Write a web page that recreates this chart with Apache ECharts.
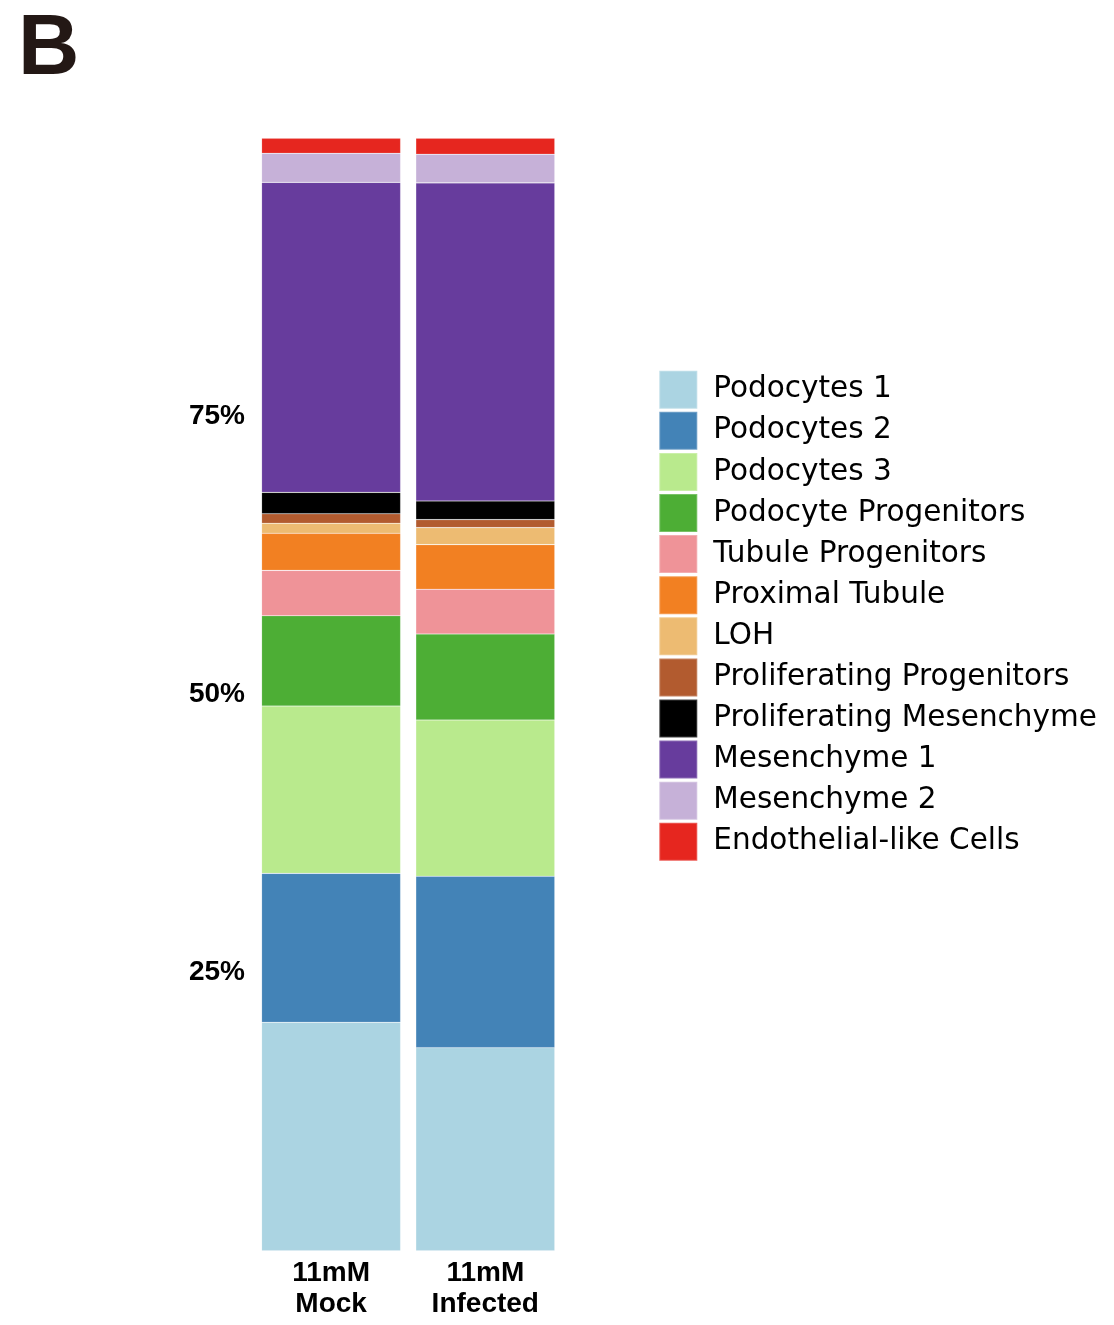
<!DOCTYPE html>
<html>
<head>
<meta charset="utf-8">
<script src="https://cdn.jsdelivr.net/npm/echarts@6/dist/echarts.min.js"></script>
<style>
html,body{margin:0;padding:0;background:#fff;}
#chart{width:1114px;height:1325px;}
</style>
</head>
<body>
<div id="chart"></div>
<script>
const categories = ['11mM\nMock', '11mM\nInfected'];
const cellTypes = ['Podocytes 1','Podocytes 2','Podocytes 3','Podocyte Progenitors','Tubule Progenitors','Proximal Tubule','LOH','Proliferating Progenitors','Proliferating Mesenchyme','Mesenchyme 1','Mesenchyme 2','Endothelial-like Cells'];
const mockValues = [20.53, 13.39, 15.04, 8.12, 4.08, 3.33, 0.90, 0.86, 1.92, 27.87, 2.61, 1.35];
const infectedValues = [18.25, 15.41, 14.05, 7.73, 4.02, 4.01, 1.53, 0.72, 1.68, 28.59, 2.58, 1.44];
const colors = ['#abd4e2','#4383b7','#b9ea8d','#4dae35','#ef9398','#f28022','#edbb72','#b25b2f','#000000','#673c9d','#c6b1d8','#e6261f'];
const yTicks = [25, 50, 75];

const chart = echarts.init(document.getElementById('chart'), null, {renderer:'canvas'});
const series = cellTypes.map((name, i) => ({
  name: name,
  type: 'bar',
  stack: 'total',
  barWidth: 139,
  data: [mockValues[i], infectedValues[i]],
  itemStyle: {color: colors[i], borderColor: 'rgba(255,255,255,0.25)', borderWidth: 0.6},
  emphasis: {disabled: true}
}));

chart.setOption({
  animation: false,
  backgroundColor: '#ffffff',
  graphic: [{
    type: 'text', left: 18, top: 8,
    style: {text: 'B', font: 'bold 85px "Liberation Sans", Arial, sans-serif', fill: '#231815'}
  }],
  grid: {left: 254, width: 308.4, top: 138.3, bottom: 74.3},
  xAxis: {
    type: 'category',
    data: categories,
    axisLine: {show: false},
    axisTick: {show: false},
    axisLabel: {
      margin: 7,
      color: '#000',
      fontFamily: '"Liberation Sans", Arial, sans-serif',
      fontWeight: 'bold',
      fontSize: 28,
      lineHeight: 31
    }
  },
  yAxis: {
    type: 'value',
    min: 0, max: 100, interval: 25,
    axisLine: {show: false},
    axisTick: {show: false},
    splitLine: {show: false},
    axisLabel: {
      margin: 9,
      color: '#000',
      fontFamily: '"Liberation Sans", Arial, sans-serif',
      fontWeight: 'bold',
      fontSize: 28,
      padding: [4, 0, 0, 0],
      formatter: v => yTicks.includes(v) ? v + '%' : ''
    }
  },
  legend: {
    orient: 'vertical',
    left: 658.3,
    top: 369.7,
    padding: 0,
    itemWidth: 38,
    itemHeight: 38,
    itemGap: 1.1,
    icon: 'rect',
    selectedMode: false,
    data: cellTypes,
    textStyle: {
      fontFamily: '"DejaVu Sans", sans-serif',
      fontSize: 29.5,
      lineHeight: 30,
      color: '#000',
      padding: [0, 0, 0, 11]
    }
  },
  series: series
});
</script>
</body>
</html>
